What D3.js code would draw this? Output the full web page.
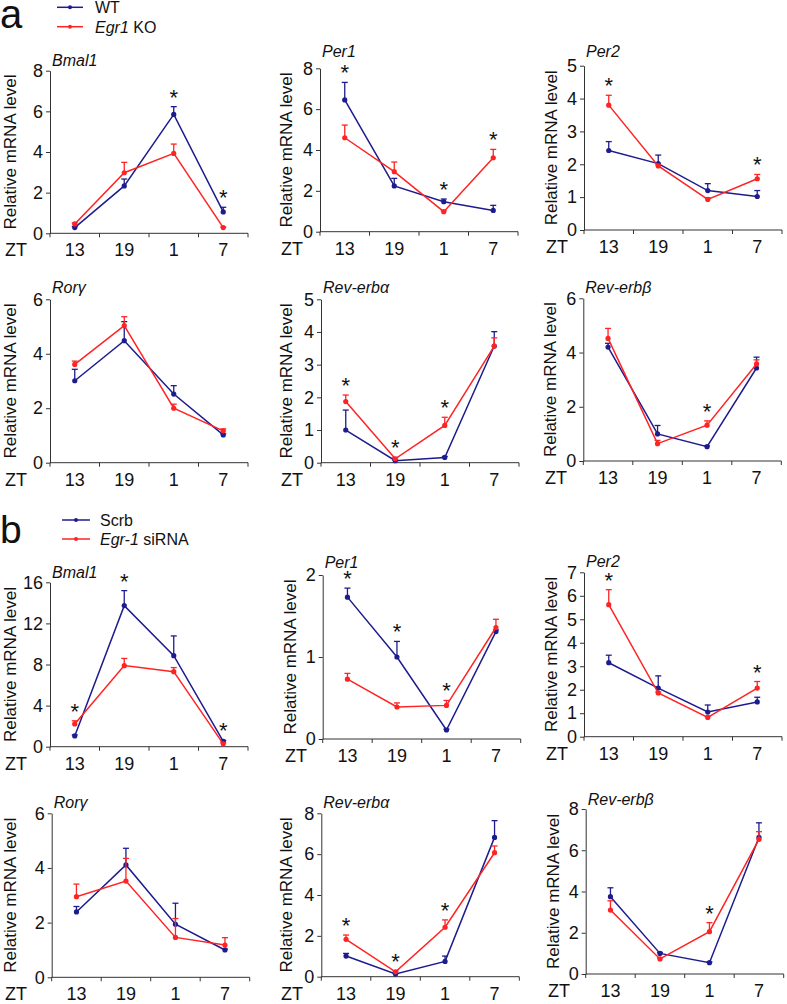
<!DOCTYPE html>
<html><head><meta charset="utf-8">
<script src="https://cdn.jsdelivr.net/npm/d3@7"></script>
<style>
body{margin:0;background:#fff;}
svg{display:block;font-family:"Liberation Sans",Arial,sans-serif;}
</style></head>
<body><svg id="c" width="787" height="1004"></svg>
<script>
// ---- data ----
const zt = ["13","19","1","7"];
const genes = ["Bmal1","Per1","Per2","Rorγ","Rev-erbα","Rev-erbβ"];
const legendA = ["WT","Egr1 KO"];
const legendB = ["Scrb","Egr-1 siRNA"];

const yMaxA = [8,8,5,6,5,6];
const yStepA = [2,2,1,2,1,2];
const wtMean = [[0.28,2.33,5.85,1.05],[6.45,2.24,1.47,1.04],[2.42,2.02,1.2,1.02],[3.01,4.48,2.52,1.02],[1.0,0.06,0.16,3.57],[4.2,1.0,0.53,3.43]];
const wtErr  = [[0.05,0.34,0.38,0.23],[0.86,0.37,0.13,0.25],[0.27,0.26,0.21,0.18],[0.42,0.7,0.31,0.04],[0.61,0.02,0.03,0.44],[0.14,0.31,0.03,0.4]];
const koMean = [[0.46,2.98,3.93,0.28],[4.6,2.94,0.98,3.62],[3.8,1.95,0.93,1.56],[3.61,5.03,2.0,1.17],[1.87,0.12,1.14,3.57],[4.52,0.64,1.32,3.58]];
const koErr  = [[0.05,0.51,0.46,0.03],[0.62,0.47,0.04,0.41],[0.3,0.03,0.05,0.13],[0.12,0.33,0.15,0.07],[0.2,0.04,0.25,0.25],[0.37,0.12,0.16,0.15]];
const sigA = [[2,3],[0,2,3],[0,3],[],[0,1,2],[2]];

const yMaxB = [16,2,7,6,8,8];
const yStepB = [4,1,1,2,2,2];
const scrbMean = [[1.05,13.73,8.86,0.52],[1.73,1.0,0.11,1.31],[3.15,2.07,1.05,1.48],[2.39,4.11,1.94,1.0],[1.01,0.13,0.75,6.82],[3.75,1.0,0.55,6.62]];
const scrbErr  = [[0.1,1.46,1.92,0.1],[0.11,0.19,0.01,0.02],[0.32,0.52,0.3,0.2],[0.2,0.61,0.77,0.03],[0.13,0.02,0.26,0.82],[0.43,0.05,0.03,0.71]];
const sirnaMean = [[2.22,7.89,7.3,0.28],[0.73,0.39,0.41,1.36],[5.62,1.86,0.82,2.07],[2.95,3.52,1.46,1.18],[1.83,0.24,2.42,6.07],[3.1,0.73,2.05,6.53]];
const sirnaErr  = [[0.3,0.7,0.4,0.1],[0.07,0.05,0.06,0.1],[0.64,0.05,0.05,0.28],[0.46,0.83,0.69,0.27],[0.21,0.04,0.36,0.33],[0.45,0.05,0.44,0.37]];
const sigB = [[0,1,3],[0,1,2],[0,3],[],[0,1,2],[2]];

// ---- layout (positions only) ----
const layout = [
  {x:50,   top:70.7,  bottom:233.3, titleY:66,  labelX:16},
  {x:320,  top:68.3,  bottom:231.7, titleY:57,  labelX:292},
  {x:584,  top:65.7,  bottom:230,   titleY:57,  labelX:557},
  {x:50,   top:299.3, bottom:462.7, titleY:293, labelX:16},
  {x:321,  top:299.3, bottom:462.7, titleY:293, labelX:292},
  {x:583.3,top:298.3, bottom:461,   titleY:293, labelX:556},
  {x:50,   top:582.3, bottom:746.7, titleY:578, labelX:16},
  {x:322.7,top:575,   bottom:739,   titleY:568, labelX:296},
  {x:584,  top:572.3, bottom:736.7, titleY:567, labelX:557},
  {x:51.7, top:813.3, bottom:977.3, titleY:808, labelX:16},
  {x:321.3,top:813.3, bottom:976.7, titleY:808, labelX:292},
  {x:585.7,top:809,   bottom:974,   titleY:805, labelX:559}
];
const AXW = 198;
const BLUE = "#1c1c8e", RED = "#ff2323", AXC = "#333";

const svg = d3.select("#c");

function panel(L, title, yMax, yStep, s1m, s1e, s2m, s2e, sig){
  const g = svg.append("g");
  const x = d3.scaleBand().domain(zt).range([L.x, L.x+AXW]).padding(0);
  const y = d3.scaleLinear().domain([0,yMax]).range([L.bottom, L.top]);
  // y axis
  const yTicks = d3.range(0, yMax+1e-9, yStep);
  const ya = g.append("g").attr("transform",`translate(${L.x},0)`)
    .call(d3.axisLeft(y).tickValues(yTicks).tickSize(4).tickSizeOuter(0).tickPadding(3).tickFormat(d3.format("d")));
  ya.select(".domain").attr("stroke",AXC);
  ya.selectAll(".tick line").attr("stroke",AXC);
  ya.selectAll(".tick text").attr("font-size",18).attr("fill","#111").attr("font-family","Liberation Sans, Arial, sans-serif");
  // x axis with ticks at band boundaries
  const xa = g.append("g").attr("transform",`translate(0,${L.bottom})`);
  xa.append("line").attr("x1",L.x).attr("x2",L.x+AXW).attr("stroke",AXC);
  const bounds = zt.map(d=>x(d)).concat([L.x+AXW]);
  xa.selectAll("line.t").data(bounds).join("line").attr("class","t")
    .attr("x1",d=>d).attr("x2",d=>d).attr("y1",0).attr("y2",4).attr("stroke",AXC);
  xa.selectAll("text.l").data(zt).join("text").attr("class","l")
    .attr("x",d=>x(d)+x.bandwidth()/2).attr("y",23).attr("text-anchor","middle")
    .attr("font-size",18).attr("fill","#111").text(d=>d);
  xa.append("text").attr("x",L.labelX-11).attr("y",23).attr("font-size",18).attr("fill","#111").text("ZT");
  // y label
  g.append("text").attr("transform",`translate(${L.labelX},${(L.top+L.bottom)/2}) rotate(-90)`)
    .attr("text-anchor","middle").attr("font-size",17).attr("fill","#111").text("Relative mRNA level");
  // title
  g.append("text").attr("x",L.x+2).attr("y",L.titleY).attr("font-size",16).attr("font-style","italic")
    .attr("fill","#111").text(title);
  const cx = d=>x(d)+x.bandwidth()/2;
  const series = [[s1m,s1e,BLUE],[s2m,s2e,RED]];
  series.forEach(([m,e,c])=>{
    const pts = zt.map((d,i)=>({k:d,v:m[i],e:e[i]}));
    pts.forEach(p=>{
      const yt = y(p.v+p.e);
      g.append("line").attr("x1",cx(p.k)).attr("x2",cx(p.k)).attr("y1",y(p.v)).attr("y2",yt).attr("stroke",c).attr("stroke-width",1.3);
      g.append("line").attr("x1",cx(p.k)-3).attr("x2",cx(p.k)+3).attr("y1",yt).attr("y2",yt).attr("stroke",c).attr("stroke-width",1.3);
    });
    g.append("path").datum(pts).attr("fill","none").attr("stroke",c).attr("stroke-width",1.5)
      .attr("d",d3.line().x(p=>cx(p.k)).y(p=>y(p.v)));
    g.selectAll(null).data(pts).join("circle").attr("cx",p=>cx(p.k)).attr("cy",p=>y(p.v)).attr("r",2.6).attr("fill",c);
  });
  // asterisks
  sig.forEach(i=>{
    const top = Math.max(s1m[i]+s1e[i], s2m[i]+s2e[i]);
    g.append("text").attr("x",cx(zt[i])).attr("y",y(top)-14+12).attr("text-anchor","middle")
      .attr("font-size",22).attr("fill","#111").text("*");
  });
}

for(let i=0;i<6;i++) panel(layout[i], genes[i], yMaxA[i], yStepA[i], wtMean[i], wtErr[i], koMean[i], koErr[i], sigA[i]);
for(let i=0;i<6;i++) panel(layout[6+i], genes[i], yMaxB[i], yStepB[i], scrbMean[i], scrbErr[i], sirnaMean[i], sirnaErr[i], sigB[i]);

// panel letters
svg.append("text").attr("x",0).attr("y",28).attr("font-size",40).attr("fill","#111").text("a");
svg.append("text").attr("x",0).attr("y",543).attr("font-size",39).attr("fill","#111").text("b");

// legends
function legend(x1, x2, tx, ys, labels, italicParts){
  [BLUE,RED].forEach((c,i)=>{
    svg.append("line").attr("x1",x1).attr("x2",x2).attr("y1",ys[i]).attr("y2",ys[i]).attr("stroke",c).attr("stroke-width",1.5);
    svg.append("circle").attr("cx",(x1+x2)/2).attr("cy",ys[i]).attr("r",2).attr("fill",c);
    const t = svg.append("text").attr("x",tx).attr("y",ys[i]+6).attr("font-size",16).attr("fill","#111");
    const lab = labels[i];
    const it = italicParts[i];
    if(it && lab.startsWith(it)){
      t.append("tspan").attr("font-style","italic").text(it);
      t.append("tspan").text(lab.slice(it.length));
    } else t.text(lab);
  });
}
legend(57, 83, 95, [7.3, 26.7], legendA, [null, "Egr1"]);
legend(62, 90, 100, [520, 539], legendB, [null, "Egr-1"]);
</script></body></html>
